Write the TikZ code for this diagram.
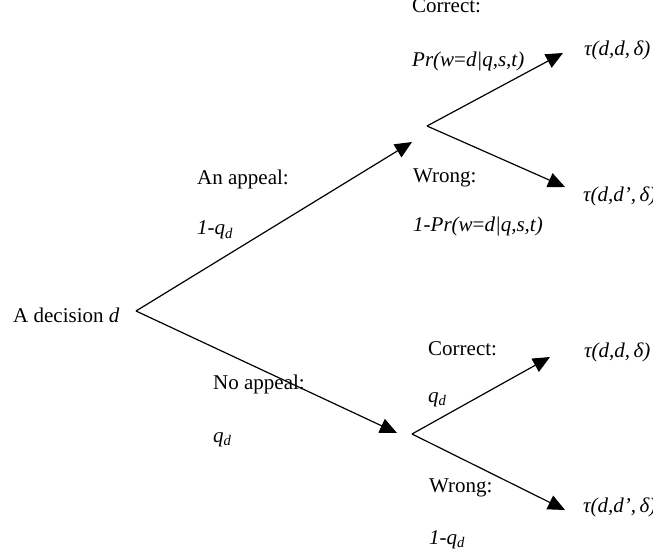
\documentclass[tikz,border=0pt]{standalone}
\usepackage{fontspec}
\setmainfont{Liberation Serif}
\usetikzlibrary{arrows.meta}
\begin{document}
\begin{tikzpicture}[x=1pt,y=-1pt,
    lbl/.style={anchor=base west,inner sep=0pt,font=\fontsize{21}{25}\selectfont},
    branch/.style={line width=1.2pt},
    arrowed/.style={branch,-{Triangle[length=17pt,width=15pt]}}]
  \useasboundingbox (0,0) rectangle (653,553);
  \coordinate (root) at (136,311);
  \coordinate (appeal) at (427,126);
  \coordinate (noappeal) at (412,434);
  \coordinate (appealtip) at (412,142);
  \coordinate (noappealtip) at (397,433);
  \coordinate (aright) at (563,53);
  \coordinate (awrong) at (565,187);
  \coordinate (nright) at (550,357);
  \coordinate (nwrong) at (565,510);
  \node[lbl] (dec) at (13,323) {A decision \textit{d}};
  \node[lbl] (apl) at (197,185) {An appeal:};
  \node[lbl] (aplp) at (197,235) {\textit{1-q}\textsubscript{\textit{d}}};
  \node[lbl] (nap) at (213,389) {No appeal:};
  \node[lbl] (napp) at (213,442) {\textit{q}\textsubscript{\textit{d}}};
  \node[lbl] (ac) at (412,13) {Correct:};
  \node[lbl] (acp) at (412,67) {\textit{Pr(w}=\textit{d|q,s,t)}};
  \node[lbl] (aw) at (413,183) {Wrong:};
  \node[lbl] (awp) at (413,232) {\textit{1-Pr(w}=\textit{d|q,s,t)}};
  \node[lbl] (nc) at (428,355) {Correct:};
  \node[lbl] (ncp) at (428,402) {\textit{q}\textsubscript{\textit{d}}};
  \node[lbl] (nw) at (429,492) {Wrong:};
  \node[lbl] (nwp) at (429,544) {\textit{1-q}\textsubscript{\textit{d}}};
  \node[lbl] (tac) at (584,56) {\textit{τ(d,d,\,δ)}};
  \node[lbl] (taw) at (583,202) {\textit{τ(d,d’,\,δ)}};
  \node[lbl] (tnc) at (584,357) {\textit{τ(d,d,\,δ)}};
  \node[lbl] (tnw) at (583,512) {\textit{τ(d,d’,\,δ)}};
  \draw[arrowed] (root) -- (appealtip);
  \draw[arrowed] (root) -- (noappealtip);
  \draw[arrowed] (appeal) -- (aright);
  \draw[arrowed] (appeal) -- (awrong);
  \draw[arrowed] (noappeal) -- (nright);
  \draw[arrowed] (noappeal) -- (nwrong);
\end{tikzpicture}
\end{document}
